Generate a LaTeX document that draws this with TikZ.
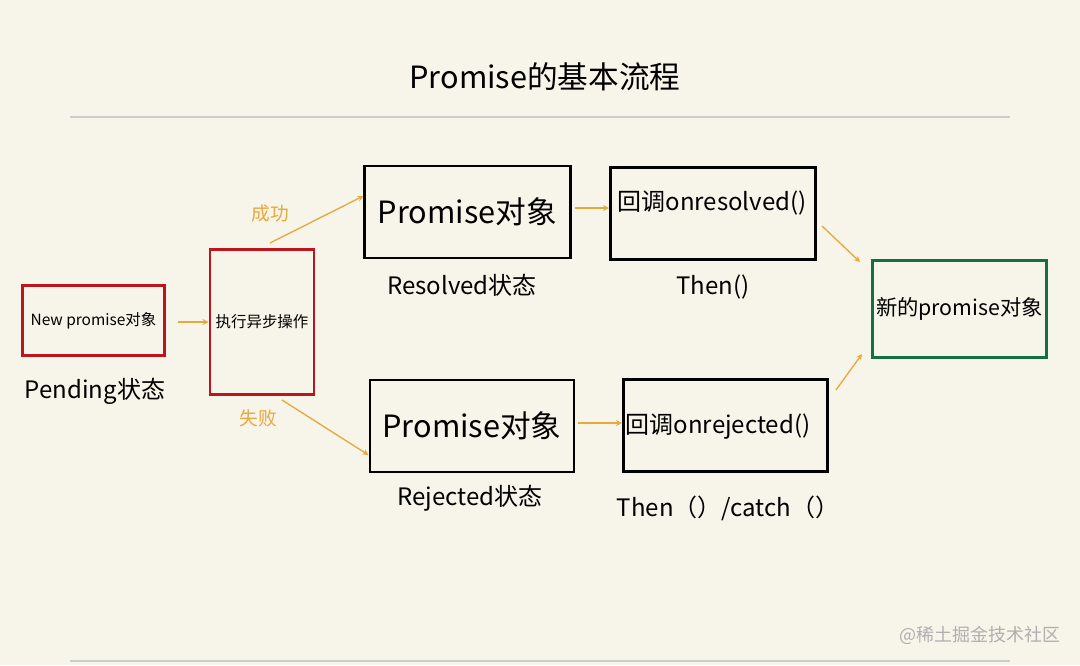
\documentclass[tikz,border=0pt]{standalone}
\usepackage{fontspec}
\setmainfont{Noto Sans CJK SC}
\begin{document}
\begin{tikzpicture}[x=0.75pt,y=-0.75pt,
  box/.style={draw,line width=2.2pt,inner sep=0pt,align=center},
  redbox/.style={box,draw={rgb,255:red,190;green,20;blue,30}},
  blackbox/.style={box,draw=black},
  greenbox/.style={box,draw={rgb,255:red,20;green,110;blue,70}},
  arr/.style={draw={rgb,255:red,232;green,168;blue,60},line width=1pt,->,>=stealth},
  lbl/.style={font=\fontsize{18}{20}\selectfont}]
\fill[fill={rgb,255:red,247;green,244;blue,233}] (0,0) rectangle (1080,665);
\useasboundingbox (0,0) rectangle (1080,665);
\node (title) at (545,77) {\fontsize{23}{26}\selectfont Promise的基本流程};
\draw[gray!40,line width=0.8pt] (70,117) -- (1010,117);
\draw[gray!40,line width=0.8pt] (70,661) -- (1010,661);
\node[redbox,minimum width=107pt,minimum height=53pt,font=\fontsize{11.6}{13}\selectfont] (np) at (93.5,320.5) {New promise对象};
\node[redbox,minimum width=78pt,minimum height=109pt,font=\fontsize{11.6}{13}\selectfont] (ex) at (262,322) {执行异步操作};
\node[blackbox,minimum width=154pt,minimum height=69pt,font=\fontsize{23}{26}\selectfont] (pr) at (467.5,212) {Promise对象};
\node[blackbox,minimum width=153pt,minimum height=69pt,font=\fontsize{23}{26}\selectfont] (pj) at (472,426) {Promise对象};
\node[blackbox,minimum width=154pt,minimum height=69pt,anchor=north west] (cr) at (609,166) {};
\node[font=\fontsize{18}{20}\selectfont] (crt) at (712,203) {回调onresolved()};
\node[blackbox,minimum width=153pt,minimum height=69pt,anchor=north west] (cj) at (622,378) {};
\node[font=\fontsize{18}{20}\selectfont] (cjt) at (718,427) {回调onrejected()};
\node[greenbox,minimum width=130pt,minimum height=73pt,font=\fontsize{16}{18}\selectfont] (nw) at (959.5,309) {新的promise对象};
\node[lbl] (l1) at (95,391) {Pending状态};
\node[lbl] (l2) at (462,285) {Resolved状态};
\node[lbl] (l3) at (713,287) {Then()};
\node[lbl] (l4) at (470,498) {Rejected状态};
\node[lbl] (l5) at (728,508) {Then（）/catch（）};
\node[font=\fontsize{13.5}{15}\selectfont,text={rgb,255:red,175;green,175;blue,175}] (wm) at (980,635) {@稀土掘金技术社区};
\node[font=\fontsize{14}{16}\selectfont,text={rgb,255:red,232;green,168;blue,60}] (s) at (270,213) {成功};
\node[font=\fontsize{14}{16}\selectfont,text={rgb,255:red,232;green,168;blue,60}] (f) at (258,418) {失败};
\coordinate (a1) at (178,322);
\coordinate (a2) at (270,243);
\coordinate (a3) at (282,400);
\coordinate (a4) at (575,208);
\coordinate (a5) at (578,423);
\coordinate (a6) at (822,226);
\coordinate (a7) at (836,390);
\coordinate (b6) at (860,262);
\coordinate (b7) at (862,354);
\draw[arr] (a1) -- (ex.west);
\draw[arr] (a2) -- (pr.west |- 0,196);
\draw[arr] (a3) -- (pj.west |- 0,455);
\draw[arr] (a4) -- (cr.west |- 0,208);
\draw[arr] (a5) -- (cj.west |- 0,423);
\draw[arr] (a6) -- (b6);
\draw[arr] (a7) -- (b7);
\end{tikzpicture}
\end{document}
